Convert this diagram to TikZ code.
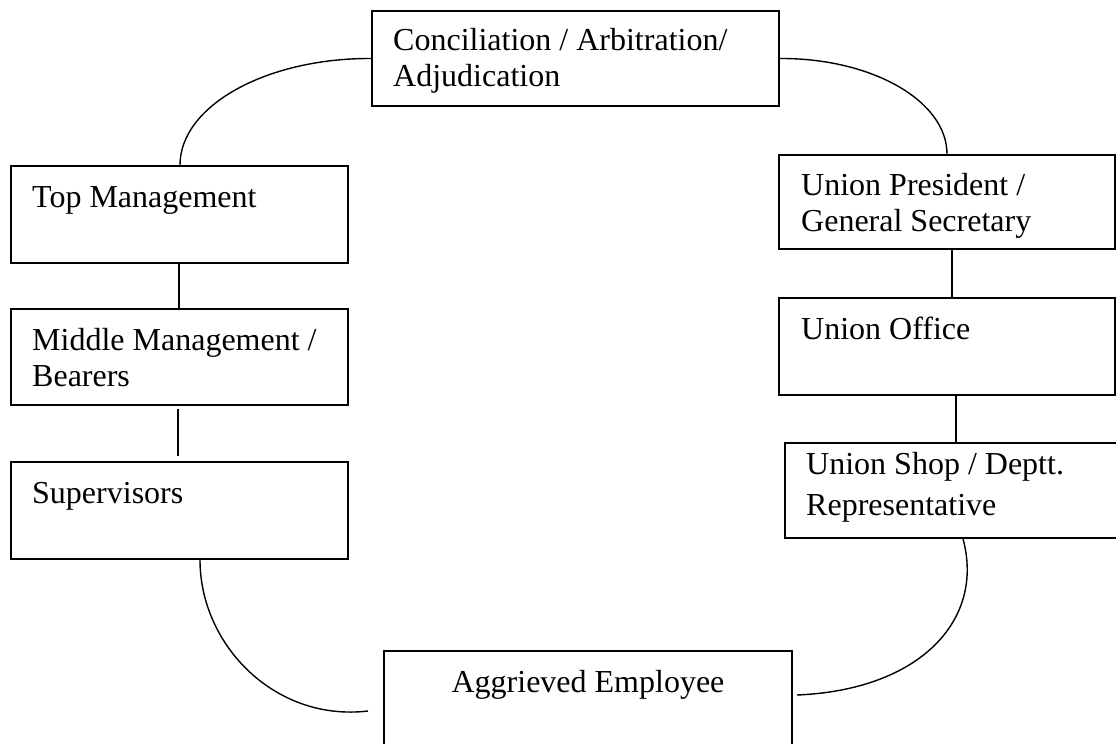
\documentclass[tikz,border=0pt]{standalone}
\usepackage{fontspec}
\setmainfont{Liberation Serif}
\newcommand\twoline[2]{\vtop{\hbox{\strut #1}\hbox{\strut #2}}}
\begin{document}
\begin{tikzpicture}[x=1pt,y=-1pt,
  box/.style={draw, line width=1.8pt, rectangle, inner sep=0pt},
  txt/.style={anchor=base west, inner sep=0pt, font=\fontsize{32}{36}\selectfont},
  link/.style={line width=1.4pt}]
\useasboundingbox (0,0) rectangle (1116,744);
% boxes
\node[box, minimum width=407, minimum height=95] (con) at (575.5,58.5) {};
\node[box, minimum width=337, minimum height=97] (tm)  at (179.5,214.5) {};
\node[box, minimum width=337, minimum height=96] (mm)  at (179.5,357) {};
\node[box, minimum width=337, minimum height=97] (sup) at (179.5,510.5) {};
\node[box, minimum width=336, minimum height=94] (up)  at (947,202) {};
\node[box, minimum width=336, minimum height=97] (uo)  at (947,346.5) {};
\node[box, minimum width=335, minimum height=95] (us)  at (952.5,490.5) {};
\node[box, minimum width=408, minimum height=99] (ag)  at (588,700.5) {};
% texts
\node[txt] (cont) at (393,50) {\twoline{Conciliation / Arbitration/}{Adjudication}};
\node[txt] (tmt)  at (32,207) {Top Management};
\node[txt] (mmt)  at (32,350) {\twoline{Middle Management /}{Bearers}};
\node[txt] (supt) at (32,503) {Supervisors};
\node[txt] (upt)  at (801,195) {\twoline{Union President /}{General Secretary}};
\node[txt] (uot)  at (801,339) {Union Office};
\node[txt] (ust)  at (806,474) {\fontsize{32}{41}\selectfont\twoline{Union Shop / Deptt.}{Representative}};
\node[txt, anchor=base] (agt) at (588,692) {Aggrieved Employee};
% free ends
\coordinate (agL) at (368,711);
\coordinate (agR) at (797,695);
% straight connectors
\draw[link] (179,0 |- tm.south) -- (179,0 |- mm.north);
\draw[link] ([yshift=-3pt]178,0 |- mm.south) -- ([yshift=5pt]178,0 |- sup.north);
\draw[link] (952,0 |- up.south) -- (952,0 |- uo.north);
\draw[link] (956,0 |- uo.south) -- (956,0 |- us.north);
% curved connectors
\draw[link] (con.west) .. controls (266,58) and (180,106) .. (180,0 |- tm.north);
\draw[link] (con.east) .. controls (872,58) and (947,101) .. (up.north);
\draw[link] (200,0 |- sup.south) .. controls (200,645) and (275,722) .. (agL);
\draw[link] (963,0 |- us.south) .. controls (985,620) and (920,690) .. (agR);
\end{tikzpicture}
\end{document}
